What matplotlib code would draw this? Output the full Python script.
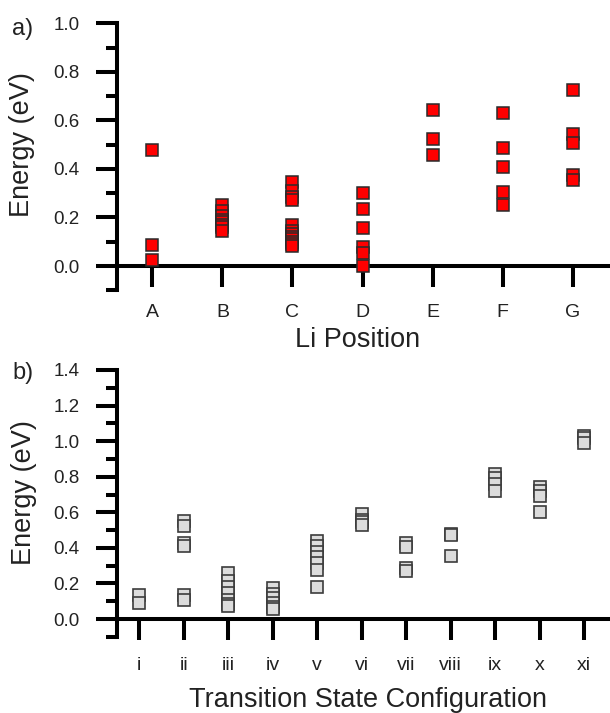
import matplotlib
matplotlib.use('Agg')
import matplotlib.pyplot as plt
from matplotlib.ticker import MultipleLocator

plt.rcParams['font.family'] = ['Liberation Sans', 'DejaVu Sans']

# Данные панели a) - положения Li
li_positions = ['A', 'B', 'C', 'D', 'E', 'F', 'G']
li_energies = [
    [0.479, 0.085, 0.026],
    [0.253, 0.225, 0.205, 0.19, 0.18, 0.17, 0.16, 0.143],
    [0.345, 0.31, 0.285, 0.273, 0.168, 0.145, 0.13, 0.12, 0.11, 0.10, 0.09, 0.082],
    [0.30, 0.237, 0.157, 0.08, 0.055, 0.0],
    [0.643, 0.523, 0.458],
    [0.63, 0.488, 0.406, 0.304, 0.25],
    [0.725, 0.543, 0.505, 0.376, 0.355],
]

# Данные панели b) - конфигурации переходного состояния
ts_configs = ['i', 'ii', 'iii', 'iv', 'v', 'vi', 'vii', 'viii', 'ix', 'x', 'xi']
ts_energies = [
    [0.133, 0.092],
    [0.551, 0.521, 0.429, 0.409, 0.133, 0.108],
    [0.257, 0.215, 0.18, 0.145, 0.105, 0.085, 0.072],
    [0.172, 0.14, 0.12, 0.09, 0.07, 0.056],
    [0.44, 0.41, 0.375, 0.35, 0.315, 0.275, 0.178],
    [0.592, 0.557, 0.545, 0.53],
    [0.425, 0.403, 0.288, 0.271],
    [0.476, 0.47, 0.354],
    [0.813, 0.79, 0.757, 0.718],
    [0.744, 0.72, 0.693, 0.601],
    [1.03, 1.015, 0.99],
]

W, H = 610, 713
fig = plt.figure(figsize=(W / 100, H / 100), dpi=100)

left = 116.5 / W
ax_a = fig.add_axes([left, 1 - 290.3 / H, 1 - left, 267.0 / H])
ax_b = fig.add_axes([left, 1 - 636.8 / H, 1 - left, 266.8 / H])


def style_axis(ax, names, ylim, xlim):
    ax.set_xlim(*xlim)
    ax.set_ylim(*ylim)
    ax.spines['top'].set_visible(False)
    ax.spines['right'].set_visible(False)
    ax.spines['bottom'].set_position(('data', 0))
    for s in ('left', 'bottom'):
        ax.spines[s].set_linewidth(2.9)
    ax.set_xticks(range(1, len(names) + 1))
    ax.set_xticklabels(names)
    ax.yaxis.set_major_locator(MultipleLocator(0.2))
    ax.yaxis.set_minor_locator(MultipleLocator(0.1))
    ax.set_yticks([t / 10 for t in range(0, int(round(ylim[1] * 10)) + 1, 2)])
    ax.yaxis.set_major_formatter(plt.FuncFormatter(lambda v, p: f'{v:.1f}'))
    ax.tick_params(axis='x', which='major', direction='out', length=15, width=2.9,
                   pad=12, labelsize=14, labelcolor='#222222')
    ax.tick_params(axis='y', which='major', direction='out', length=15, width=2.9,
                   pad=11.5, labelsize=13.5, labelcolor='#222222')
    ax.tick_params(axis='y', which='minor', direction='out', length=8, width=2.9)
    ax.tick_params(axis='x', which='minor', length=0)


style_axis(ax_a, li_positions, (-0.1, 1.0), (0.489, 7.53))
style_axis(ax_b, ts_configs, (-0.1, 1.4), (0.488, 11.58))

# Точки
for i, vals in enumerate(li_energies):
    ax_a.plot([i + 1] * len(vals), vals, 's', ms=8.6, mfc='#ff0000', mec='#2a2a2a',
              mew=1.1, zorder=4, clip_on=False)

for i, vals in enumerate(ts_energies):
    ax_b.plot([i + 1] * len(vals), vals, 's', ms=8.3, mfc='#dcdcdc', mec='#3c3c3c',
              mew=1.2, zorder=4, clip_on=False)

# Подписи осей
ax_a.set_xlabel('Li Position', fontsize=19.5, va='center', color='#222222')
ax_a.xaxis.set_label_coords(0.489, -0.186)
ax_a.set_ylabel('Energy (eV)', fontsize=19.5, va='center', ha='center', color='#222222')
ax_a.yaxis.set_label_coords(-0.1915, 0.544)

ax_b.set_xlabel('Transition State Configuration', fontsize=19.5, va='center', color='#222222')
ax_b.xaxis.set_label_coords(0.509, -0.237)
ax_b.set_ylabel('Energy (eV)', fontsize=19.5, va='center', ha='center', color='#222222')
ax_b.yaxis.set_label_coords(-0.188, 0.539)

fig.text(23 / W, 1 - 29 / H, 'a)', fontsize=17, ha='center', va='center', color='#222222')
fig.text(23.5 / W, 1 - 373 / H, 'b)', fontsize=17, ha='center', va='center', color='#222222')

fig.savefig('out.png', dpi=100)
